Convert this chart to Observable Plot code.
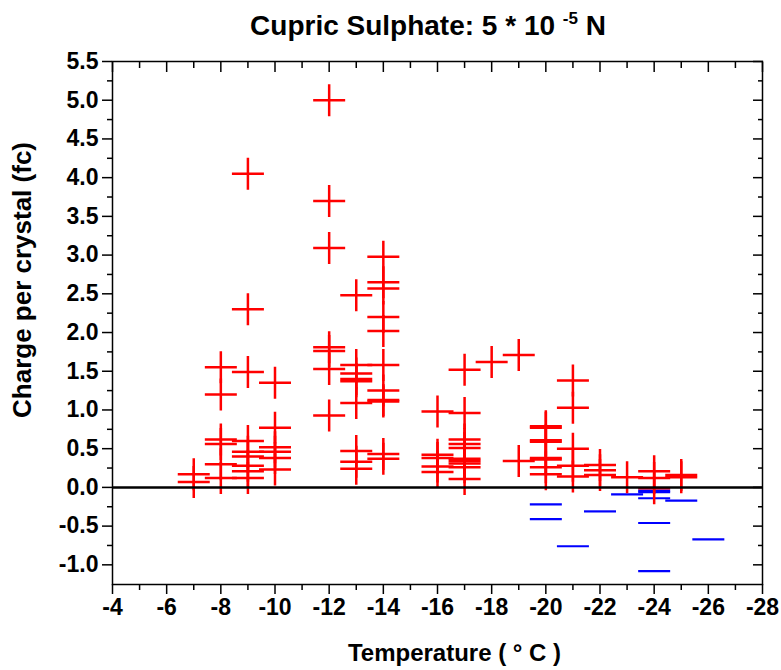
<!DOCTYPE html>
<html>
<head>
<meta charset="utf-8">
<script src="https://cdn.jsdelivr.net/npm/d3@7"></script>
<script src="https://cdn.jsdelivr.net/npm/@observablehq/plot@0.6"></script>
<style>
  html, body { margin: 0; padding: 0; background: #fff; overflow: hidden; }
  #wrap { position: relative; width: 781px; height: 670px; font-family: "Liberation Sans", Arial, sans-serif; }
  #title { position: absolute; top: 0; left: 0; width: 781px; height: 45px; }
  #title .t { position: absolute; top: 10px; left: 75px; width: 706px; text-align: center;
              font-size: 28px; font-weight: bold; line-height: 32px; white-space: nowrap; }
  #title .sup { position: relative; top: -11px; font-size: 17px; }
  #chart { position: absolute; top: 45px; left: 0; }
</style>
</head>
<body>
<div id="wrap">
  <div id="title"><div class="t">Cupric Sulphate: 5 * 10 <span class="sup">-5</span> N</div></div>
  <div id="chart"></div>
</div>
<script>
// ---- data ----
const redTemp = [
  -7, -7,
  -8, -8, -8, -8, -8, -8,
  -9, -9, -9, -9, -9, -9, -9, -9, -9,
  -10, -10, -10, -10, -10, -10,
  -12, -12, -12, -12, -12, -12, -12,
  -13, -13, -13, -13, -13, -13, -13, -13, -13,
  -14, -14, -14, -14, -14, -14, -14, -14, -14, -14, -14,
  -16, -16, -16, -16, -16,
  -17, -17, -17, -17, -17, -17, -17, -17, -17, -17,
  -18,
  -19, -19,
  -20, -20, -20, -20, -20, -20, -20, -20,
  -21, -21, -21, -21, -21,
  -22, -22, -22,
  -23,
  -24, -24, -24,
  -25, -25
];
const redCharge = [
  0.17, 0.07,
  1.55, 1.20, 0.62, 0.56, 0.30, 0.12,
  4.05, 2.30, 1.49, 0.60, 0.46, 0.40, 0.28, 0.21, 0.12,
  1.35, 0.77, 0.52, 0.46, 0.38, 0.23,
  5.00, 3.70, 3.09, 1.81, 1.76, 1.53, 0.93,
  2.48, 1.58, 1.47, 1.40, 1.37, 1.09, 0.47, 0.33, 0.24,
  2.98, 2.65, 2.57, 2.20, 2.02, 1.58, 1.25, 1.13, 1.11, 0.43, 0.37,
  0.98, 0.42, 0.38, 0.27, 0.20,
  1.52, 0.96, 0.62, 0.56, 0.51, 0.37, 0.34, 0.31, 0.26, 0.11,
  1.62,
  1.71, 0.34,
  0.79, 0.77, 0.61, 0.59, 0.38, 0.36, 0.26, 0.17,
  1.38, 1.03, 0.50, 0.28, 0.14,
  0.29, 0.22, 0.16,
  0.13,
  0.21, 0.12, -0.01,
  0.16, 0.13
];
const blueTemp = [-20, -20, -21, -22, -23, -24, -24, -24, -24, -24, -25, -26];
const blueCharge = [-0.22, -0.41, -0.76, -0.31, -0.09, -0.04, -0.06, -0.14, -0.46, -1.08, -0.17, -0.67];

const xMajorTicks = [-4, -6, -8, -10, -12, -14, -16, -18, -20, -22, -24, -26, -28];
const xMinorTicks = [-5, -7, -9, -11, -13, -15, -17, -19, -21, -23, -25, -27];
const yMajorTicks = [-1.0, -0.5, 0.0, 0.5, 1.0, 1.5, 2.0, 2.5, 3.0, 3.5, 4.0, 4.5, 5.0, 5.5];
const yMinorTicks = [-0.75, -0.25, 0.25, 0.75, 1.25, 1.75, 2.25, 2.75, 3.25, 3.75, 4.25, 4.75, 5.25];

const xLabel = "Temperature ( \u00B0 C )";
const yLabel = "Charge per crystal (fc)";

// ---- tables for Plot ----
const positive = redTemp.map((t, i) => ({temp: t, charge: redCharge[i]}));
const negative = blueTemp.map((t, i) => ({temp: t, charge: blueCharge[i]}));

// custom marker shapes
const plusSymbol = { draw(ctx) { const h = 16; ctx.moveTo(-h, 0); ctx.lineTo(h, 0); ctx.moveTo(0, -h); ctx.lineTo(0, h); } };
const minusSymbol = { draw(ctx) { const h = 16; ctx.moveTo(-h, 0); ctx.lineTo(h, 0); } };

const font = '"Liberation Sans", Arial, sans-serif';
const tickText = {fontSize: 23, fontWeight: "bold", strokeWidth: 1.5, label: null};
const noText = {tickFormat: () => "", strokeWidth: 1.5, label: null};

const chart = Plot.plot({
  width: 781,
  height: 625,
  marginTop: 16,
  marginBottom: 86,
  marginLeft: 112,
  marginRight: 19,
  style: {fontFamily: font, background: "white", color: "black", overflow: "visible"},
  x: {domain: [-4, -28]},
  y: {domain: [-1.254, 5.5]},
  marks: [
    Plot.dot(negative, {x: "temp", y: "charge", symbol: minusSymbol, fill: "none", stroke: "#0000ff", strokeWidth: 2.2}),
    Plot.dot(positive, {x: "temp", y: "charge", symbol: plusSymbol, fill: "none", stroke: "#ff0000", strokeWidth: 2.5}),
    Plot.ruleY([0], {stroke: "black", strokeWidth: 2.5}),
    Plot.frame({stroke: "black", strokeWidth: 1.5}),
    Plot.axisX(xMajorTicks, {anchor: "bottom", tickSize: 10, tickPadding: 4, tickFormat: d => String(d), ...tickText}),
    Plot.axisX(xMinorTicks, {anchor: "bottom", tickSize: 6, ...noText}),
    Plot.axisX(xMajorTicks, {anchor: "top", tickSize: -10, ...noText}),
    Plot.axisX(xMinorTicks, {anchor: "top", tickSize: -6, ...noText}),
    Plot.axisY(yMajorTicks, {anchor: "left", tickSize: 10, tickPadding: 4, tickFormat: d => d.toFixed(1), ...tickText}),
    Plot.axisY(yMinorTicks, {anchor: "left", tickSize: 5, ...noText}),
    Plot.axisY(yMajorTicks, {anchor: "right", tickSize: -10, ...noText}),
    Plot.axisY(yMinorTicks, {anchor: "right", tickSize: -5, ...noText}),
    Plot.text([xLabel], {frameAnchor: "bottom", dx: 17, dy: 69, text: d => d, textAnchor: "middle", lineAnchor: "middle", fontSize: 24, fontWeight: "bold", fill: "black"}),
    Plot.text([yLabel], {frameAnchor: "left", dx: -90, dy: -43, rotate: -90, text: d => d, textAnchor: "middle", lineAnchor: "middle", fontSize: 26, fontWeight: "bold", fill: "black"})
  ]
});
document.getElementById("chart").appendChild(chart);
</script>
</body>
</html>
